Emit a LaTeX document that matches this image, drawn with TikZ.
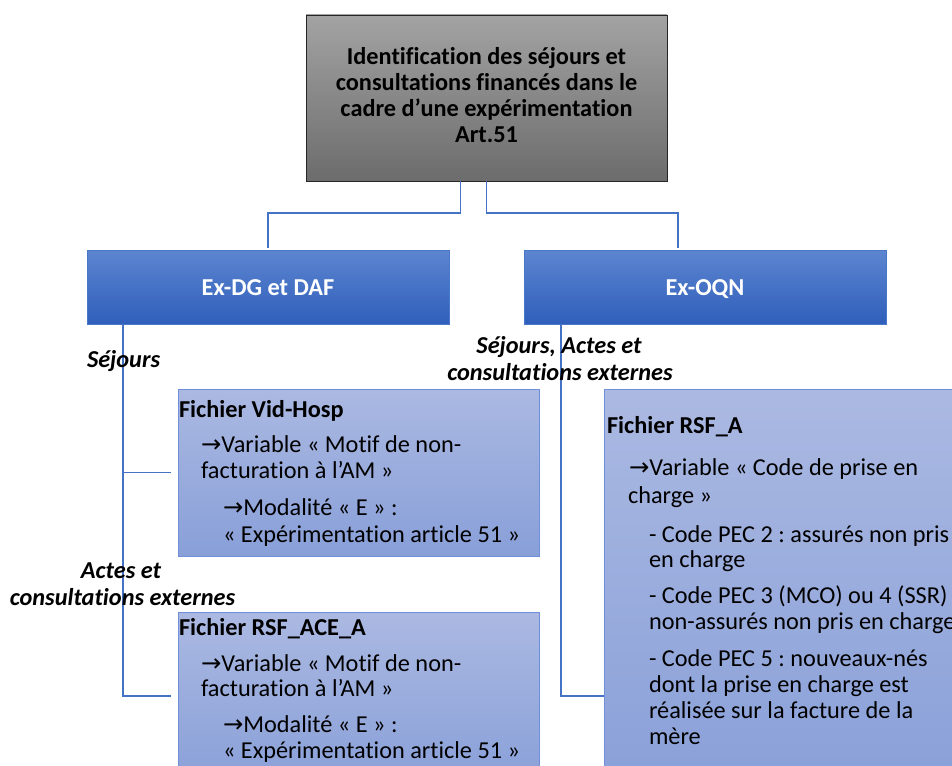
\documentclass[tikz,border=0pt]{standalone}
\usepackage{fontspec}
\setmainfont{Carlito}[Ligatures=NoCommon]
\newfontfamily\arrowf{DejaVu Sans}
\newcommand{\rarr}{{\arrowf →}}
\frenchspacing
\definecolor{graytop}{HTML}{A3A3A3}
\definecolor{graybot}{HTML}{6C6C6C}
\definecolor{bluetop}{HTML}{5D85D0}
\definecolor{bluebot}{HTML}{2F5FBB}
\definecolor{bluedge}{HTML}{4A78C8}
\definecolor{lighttop}{HTML}{ABB9E2}
\definecolor{lightbot}{HTML}{889FD8}
\definecolor{lightedge}{HTML}{6F8FD8}
\definecolor{connblue}{HTML}{4472C4}
\newcommand{\fsz}{\fontsize{24.3}{27}\selectfont}
\begin{document}
\begin{tikzpicture}[x=1pt,y=-1pt,
  every node/.style={inner sep=0pt,outer sep=0pt},
  graybox/.style={draw=black!85,line width=0.8pt,top color=graytop,bottom color=graybot,
    minimum width=361pt,minimum height=166pt,anchor=north west},
  bluebox/.style={draw=bluedge,line width=0.6pt,top color=bluetop,bottom color=bluebot,
    minimum width=362pt,minimum height=74pt,anchor=north west},
  lightbox/.style={draw=lightedge,line width=1pt,top color=lighttop,bottom color=lightbot,
    anchor=north west},
  conn/.style={draw=connblue,line width=1.5pt},
  txt/.style={anchor=base west,font=\fsz},
  btxt/.style={anchor=base west,font=\fsz\bfseries},
  ctxt/.style={anchor=base,font=\fsz\bfseries},
  lbl/.style={anchor=base,font=\fsz\bfseries\itshape},
]
\useasboundingbox (0,0) rectangle (952,765);
\clip (0,0) rectangle (952,765);
\fill[white] (0,0) rectangle (952,765);

% boxes
\node[graybox] (top) at (306,15) {};
\node[bluebox] (dg) at (87,250) {};
\node[bluebox] (oqn) at (524,250) {};
\node[lightbox,minimum width=361pt,minimum height=167pt] (vid) at (178,389) {};
\node[lightbox,minimum width=361pt,minimum height=175pt] (ace) at (178,612) {};
\node[lightbox,minimum width=400pt,minimum height=410pt] (rsfa) at (604,389) {};

% connectors
\coordinate (jl) at ([xshift=-26pt]top.south);
\draw[conn,shorten >=2pt] (jl) -- ++(0,32) -| (dg.north);
\draw[conn,shorten >=2pt] (top.south) -- ++(0,32) -| ([xshift=-27pt]oqn.north);
\coordinate (bl) at ([xshift=36pt]dg.south west);
\draw[conn,shorten >=7pt] (bl) |- ([yshift=-84pt]ace.north west);
\draw[conn,shorten >=7pt] (bl |- vid.west) -- (vid.west);
\coordinate (br) at ([xshift=37pt]oqn.south west);
\draw[conn] (br) |- ([yshift=-307pt]rsfa.north west);

% top box text
\node[ctxt] (t1) at (486.5,65) {Identification des séjours et};
\node[ctxt] (t2) at (486.5,91) {consultations financés dans le};
\node[ctxt] (t3) at (486.5,117) {cadre d’une expérimentation};
\node[ctxt] (t4) at (486.5,142) {Art.51};

% level 2 text
\node[ctxt,text=white] (dgt) at (268,295) {Ex-DG et DAF};
\node[ctxt,text=white] (oqnt) at (705,295) {Ex-OQN};

% labels
\node[lbl,anchor=base west] (l1) at (87,367) {Séjours};
\node[lbl] (l2a) at (559,353) {Séjours, Actes et};
\node[lbl] (l2b) at (560,380) {consultations externes};
\node[lbl] (l3a) at (121,578) {Actes et};
\node[lbl] (l3b) at (122.5,605) {consultations externes};

% Vid-Hosp
\node[btxt] (v1) at (179,417) {Fichier Vid-Hosp};
\node[txt] (v2) at (201,452) {\rarr Variable « Motif de non-};
\node[txt] (v3) at (201,478) {facturation à l’AM »};
\node[txt] (v4) at (223,515) {\rarr Modalité « E » :};
\node[txt] (v5) at (223,542) {« Expérimentation article 51 »};

% RSF_ACE_A
\node[btxt] (a1) at (179,635) {Fichier RSF\_ACE\_A};
\node[txt] (a2) at (201,671) {\rarr Variable « Motif de non-};
\node[txt] (a3) at (201,696) {facturation à l’AM »};
\node[txt] (a4) at (223,732) {\rarr Modalité « E » :};
\node[txt] (a5) at (223,758) {« Expérimentation article 51 »};

% RSF_A
\node[btxt] (r1) at (607,433) {Fichier RSF\_A};
\node[txt] (r2) at (629,475) {\rarr Variable « Code de prise en};
\node[txt] (r3) at (628,503) {charge »};
\node[txt] (r4) at (649,542) {- Code PEC 2 : assurés non pris};
\node[txt] (r5) at (649,567) {en charge};
\node[txt] (r6) at (649,603) {- Code PEC 3 (MCO) ou 4 (SSR)};
\node[txt] (r7) at (649,629) {non-assurés non pris en charge};
\node[txt] (r8) at (649,666) {- Code PEC 5 : nouveaux-nés};
\node[txt] (r9) at (649,692) {dont la prise en charge est};
\node[txt] (r10) at (649,718) {réalisée sur la facture de la};
\node[txt] (r11) at (649,744) {mère};
\end{tikzpicture}
\end{document}
